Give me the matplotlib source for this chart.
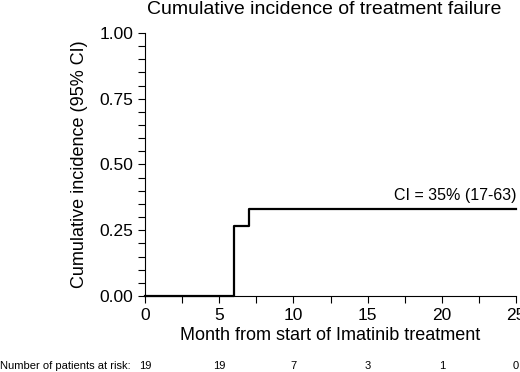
import numpy as np
import matplotlib.pyplot as plt
import matplotlib.transforms as mtransforms
from matplotlib.ticker import MultipleLocator

plt.rcParams['font.family'] = ['Liberation Sans', 'DejaVu Sans']

# step data
months = [0, 6, 7, 25]
incidence = [0.0, 0.266, 0.33, 0.33]
risk_months = [0, 5, 10, 15, 20, 25]
at_risk = [19, 19, 7, 3, 1, 0]

W, H = 520, 372
fig = plt.figure(figsize=(W / 100, H / 100), dpi=100)
ax = fig.add_axes([145 / W, 1 - 296 / H, 371 / W, 263 / H])

ax.step(months, incidence, where='post', color='black', lw=1.6, clip_on=False)
ax.text(25, 0.355, 'CI = 35% (17-63)', ha='right', va='bottom', fontsize=11.5)

ax.set_xlim(0, 25)
ax.set_ylim(0, 1)
ax.xaxis.set_major_locator(MultipleLocator(5))
ax.xaxis.set_minor_locator(MultipleLocator(2.5))
ax.yaxis.set_major_locator(MultipleLocator(0.25))
ax.yaxis.set_minor_locator(MultipleLocator(0.05))
ax.yaxis.set_major_formatter(plt.FormatStrFormatter('%.2f'))
ax.tick_params(which='both', direction='out', length=5, width=0.8, labelsize=12.5)
ax.spines['top'].set_visible(False)
ax.spines['right'].set_visible(False)

ax.set_xlabel('Month from start of Imatinib treatment', fontsize=13, labelpad=3)
ax.set_ylabel('Cumulative incidence (95% CI)', fontsize=13, labelpad=8)
fig.text((149 + 499) / 2 / W, 1 - 0.5 / H, 'Cumulative incidence of treatment failure',
         ha='center', va='top', fontsize=14)

# number at risk row
row = mtransforms.blended_transform_factory(ax.transData, fig.transFigure)
for m, n in zip(risk_months, at_risk):
    ax.text(m, 1 - 366 / H, str(n), transform=row, ha='center', va='center',
            fontsize=8, clip_on=False)
fig.text(0, 1 - 366 / H, 'Number of patients at risk:', ha='left', va='center', fontsize=8)

fig.savefig('out.png', dpi=100)
